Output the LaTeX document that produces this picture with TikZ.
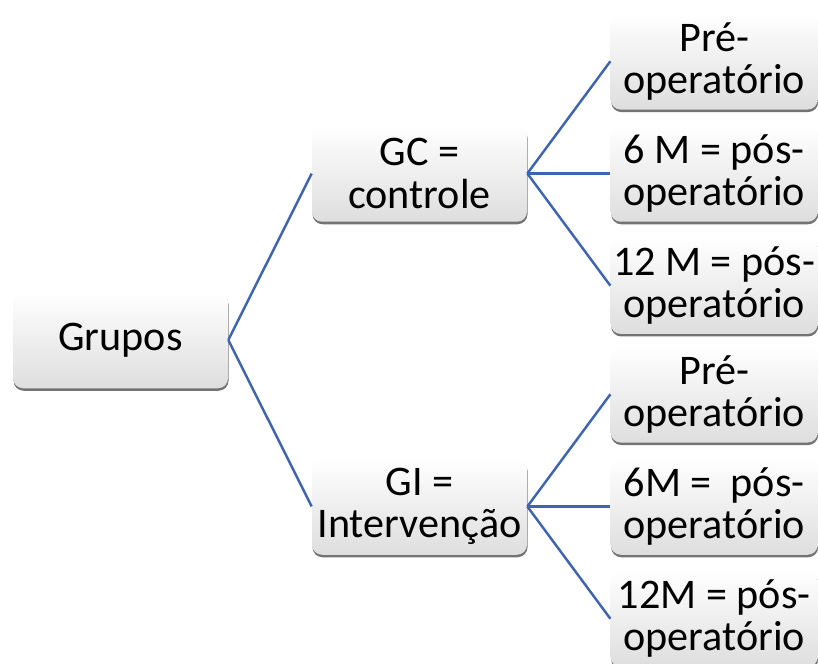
\documentclass[tikz,border=0pt]{standalone}
\usepackage{fontspec}
\setmainfont{Carlito}
\usetikzlibrary{positioning,shadows}
\definecolor{linha}{RGB}{62,100,178}

\begin{document}
\begin{tikzpicture}[
  caixa/.style={rounded corners=0.2cm, top color=white, bottom color=black!13,
    minimum width=4.3cm, minimum height=1.93cm, inner sep=0pt, align=center,
    font=\fontsize{24}{24}\selectfont,
    drop shadow={shadow xshift=0.01cm, shadow yshift=-0.05cm, fill=black!55, opacity=1}},
  folha/.style={caixa, minimum width=4.14cm},
  lig/.style={draw=linha, line width=1.4pt}]
  \useasboundingbox (0,0) rectangle (16.36,-13.28);

  \node[caixa] (grupos) at (2.41,-6.8) {Grupos};
  \node[caixa] (gc) at (8.39,-3.47) {GC =\\controle};
  \node[caixa] (gi) at (8.39,-10.13) {GI =\\Intervenção};

  \node[folha, right = 1.66cm of gc] (gc6) {6 M = pós-\\operatório};
  \node[folha, above = 0.3cm of gc6] (gcpre) {Pré-\\operatório};
  \node[folha, below = 0.3cm of gc6] (gc12) {12 M = pós-\\operatório};

  \node[folha, right = 1.66cm of gi] (gi6) {6M = \ pós-\\operatório};
  \node[folha, above = 0.3cm of gi6] (gipre) {Pré-\\operatório};
  \node[folha, below = 0.3cm of gi6] (gi12) {12M = pós-\\operatório};

  \draw[lig] (grupos.east) -- (gc.west);
  \draw[lig] (grupos.east) -- (gi.west);
  \draw[lig] (gc.east) -- (gcpre.west);
  \draw[lig] (gc.east) -- (gc6.west);
  \draw[lig] (gc.east) -- (gc12.west);
  \draw[lig] (gi.east) -- (gipre.west);
  \draw[lig] (gi.east) -- (gi6.west);
  \draw[lig] (gi.east) -- (gi12.west);

\end{tikzpicture}
\end{document}
